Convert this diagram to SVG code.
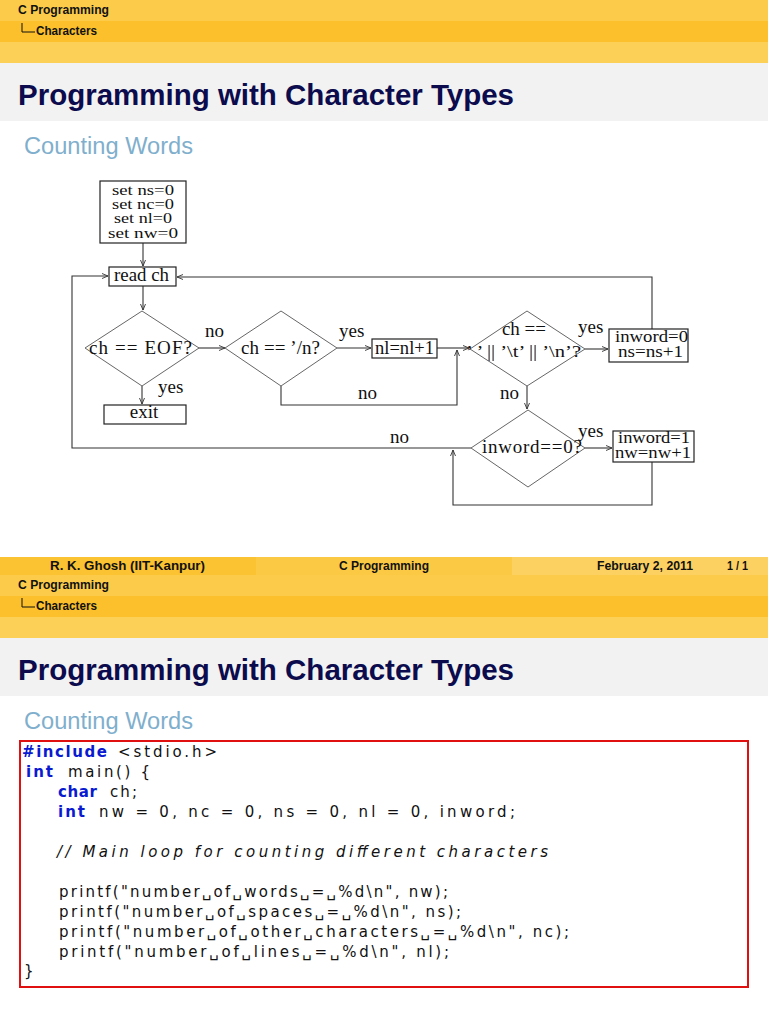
<svg xmlns="http://www.w3.org/2000/svg" width="768" height="1024" viewBox="0 0 768 1024">
<defs>
<style>
.hdr{font-family:"Liberation Sans",Arial,sans-serif;font-size:12px;font-weight:bold;fill:#111}
.title{font-family:"Liberation Sans",Arial,sans-serif;font-size:30px;font-weight:bold;fill:#0b0b4d}
.sub{font-family:"Liberation Sans",Arial,sans-serif;font-size:23px;fill:#7fafcd}
.ft{font-family:"Liberation Sans",Arial,sans-serif;font-size:12px;font-weight:bold;fill:#111}
.fc{font-family:"Liberation Serif","Times New Roman",serif;font-size:19px;fill:#111}
.fs{font-family:"Liberation Serif","Times New Roman",serif;font-size:16px;fill:#111}
.fi{font-family:"Liberation Serif","Times New Roman",serif;font-size:15px;fill:#111}
.box{fill:#fff;stroke:#222;stroke-width:1.2}
.dia{fill:#fff;stroke:#666;stroke-width:1}
.con{fill:none;stroke:#333;stroke-width:1.1}
.code{font-family:"DejaVu Sans","Liberation Sans",sans-serif;font-size:15px;fill:#111}
.kw{font-family:"DejaVu Sans","Liberation Sans",sans-serif;font-size:15px;font-weight:bold;fill:#0a1ad0}
.cm{font-family:"DejaVu Sans","Liberation Sans",sans-serif;font-size:15px;font-style:italic;fill:#111}
</style>
<marker id="ah" markerWidth="8" markerHeight="8" refX="7" refY="4" orient="auto" markerUnits="userSpaceOnUse">
<path d="M1,1.5 L7,4 L1,6.5" fill="none" stroke="#333" stroke-width="0.9"/>
</marker>
</defs>
<rect width="768" height="1024" fill="#fff"/>

<!-- Slide 1 header -->
<g id="slide1-header">
<rect x="0" y="0" width="768" height="21" fill="#fccb4a"/>
<rect x="0" y="21" width="768" height="21" fill="#fbc02b"/>
<rect x="0" y="42" width="768" height="21" fill="#fccf57"/>
<rect x="0" y="63" width="768" height="58" fill="#f2f2f2"/>
<text class="hdr" x="18" y="14" textLength="91" lengthAdjust="spacingAndGlyphs">C Programming</text>
<path d="M22,23 V32 H35" fill="none" stroke="#111" stroke-width="1"/>
<text class="hdr" x="36" y="35" textLength="61" lengthAdjust="spacingAndGlyphs">Characters</text>
<text class="title" x="18" y="105" textLength="496" lengthAdjust="spacingAndGlyphs">Programming with Character Types</text>
<text class="sub" x="24" y="154" textLength="169" lengthAdjust="spacingAndGlyphs">Counting Words</text>
</g>

<!-- Flowchart -->
<g id="connectors">
<path class="con" d="M143,243 V266" marker-end="url(#ah)"/>
<path class="con" d="M143,286 V310" marker-end="url(#ah)"/>
<path class="con" d="M198,348 H225" marker-end="url(#ah)"/>
<path class="con" d="M337,348 H371" marker-end="url(#ah)"/>
<path class="con" d="M281,386 V405 H457 V350" marker-end="url(#ah)"/>
<path class="con" d="M437,348 H469" marker-end="url(#ah)"/>
<path class="con" d="M585,349 H608" marker-end="url(#ah)"/>
<path class="con" d="M652,329 V277 H177" marker-end="url(#ah)"/>
<path class="con" d="M527,386 V409" marker-end="url(#ah)"/>
<path class="con" d="M585,448 H612" marker-end="url(#ah)"/>
<path class="con" d="M652,462 V505 H453 V450" marker-end="url(#ah)"/>
<path class="con" d="M471,448 H72 V276 H108" marker-end="url(#ah)"/>
<path class="con" d="M142,386 V404" marker-end="url(#ah)"/>
<text class="fc" x="205" y="337">no</text>
<text class="fc" x="158" y="393">yes</text>
<text class="fc" x="339" y="337">yes</text>
<text class="fc" x="358" y="399">no</text>
<text class="fc" x="578" y="333">yes</text>
<text class="fc" x="500" y="399">no</text>
<text class="fc" x="578" y="437">yes</text>
<text class="fc" x="390" y="443">no</text>
</g>

<g id="init">
<rect class="box" x="100" y="181" width="86" height="62"/>
<text class="fi" x="112" y="195" textLength="62" lengthAdjust="spacingAndGlyphs">set ns=0</text>
<text class="fi" x="112" y="209" textLength="62" lengthAdjust="spacingAndGlyphs">set nc=0</text>
<text class="fi" x="114" y="223" textLength="58" lengthAdjust="spacingAndGlyphs">set nl=0</text>
<text class="fi" x="108" y="238" textLength="70" lengthAdjust="spacingAndGlyphs">set nw=0</text>
</g>
<g id="read">
<rect class="box" x="109" y="267" width="67" height="19"/>
<text class="fc" x="114" y="281" textLength="55" lengthAdjust="spacingAndGlyphs">read ch</text>
</g>
<g id="eof">
<polygon class="dia" points="142,311 199,348 142,386 85,348"/>
<text class="fc" x="89" y="354" textLength="103">ch == EOF?</text>
</g>
<g id="exit">
<rect class="box" x="104" y="405" width="82" height="19"/>
<text class="fc" text-anchor="middle" x="144" y="418">exit</text>
</g>
<g id="newline">
<polygon class="dia" points="281,311 337,348 281,386 225,348"/>
<text class="fc" x="241" y="354" textLength="79">ch == ’/n?</text>
</g>
<g id="nlinc">
<rect class="box" x="372" y="339" width="65" height="19"/>
<text class="fc" x="375" y="354" textLength="59" lengthAdjust="spacingAndGlyphs">nl=nl+1</text>
</g>
<g id="space">
<polygon class="dia" points="527,311 585,349 527,386 470,349"/>
<text class="fc" text-anchor="middle" x="524" y="335">ch ==</text>
<text class="fs" x="466" y="357" textLength="115" lengthAdjust="spacingAndGlyphs">’ ’ || ’\t’ || ’\n’?</text>
</g>
<g id="inword0">
<rect class="box" x="609" y="329" width="79" height="33"/>
<text class="fs" x="615" y="342" textLength="73" lengthAdjust="spacingAndGlyphs">inword=0</text>
<text class="fs" x="618" y="357" textLength="65" lengthAdjust="spacingAndGlyphs">ns=ns+1</text>
</g>
<g id="inwordtest">
<polygon class="dia" points="528,410 585,448 528,487 471,448"/>
<text class="fc" x="482" y="453" textLength="100">inword==0?</text>
</g>
<g id="inword1">
<rect class="box" x="613" y="431" width="81" height="31"/>
<text class="fs" x="618" y="443" textLength="72" lengthAdjust="spacingAndGlyphs">inword=1</text>
<text class="fs" x="615" y="458" textLength="76" lengthAdjust="spacingAndGlyphs">nw=nw+1</text>
</g>

<!-- Footer -->
<g id="footer">
<rect x="0" y="557" width="256" height="18" fill="#fbc231"/>
<rect x="256" y="557" width="256" height="18" fill="#fcc944"/>
<rect x="512" y="557" width="256" height="18" fill="#fcd162"/>
<text class="ft" x="50" y="570" textLength="155" lengthAdjust="spacingAndGlyphs">R. K. Ghosh  (IIT-Kanpur)</text>
<text class="ft" x="339" y="570" textLength="90" lengthAdjust="spacingAndGlyphs">C Programming</text>
<text class="ft" x="597" y="570" textLength="96" lengthAdjust="spacingAndGlyphs">February 2, 2011</text>
<text class="ft" x="727" y="570" textLength="21" lengthAdjust="spacingAndGlyphs">1 / 1</text>
</g>

<!-- Slide 2 header -->
<g id="slide2-header">
<rect x="0" y="575" width="768" height="21" fill="#fccb4a"/>
<rect x="0" y="596" width="768" height="21" fill="#fbc02b"/>
<rect x="0" y="617" width="768" height="21" fill="#fccf57"/>
<rect x="0" y="638" width="768" height="58" fill="#f2f2f2"/>
<text class="hdr" x="18" y="589" textLength="91" lengthAdjust="spacingAndGlyphs">C Programming</text>
<path d="M22,598 V607 H35" fill="none" stroke="#111" stroke-width="1"/>
<text class="hdr" x="36" y="610" textLength="61" lengthAdjust="spacingAndGlyphs">Characters</text>
<text class="title" x="18" y="680" textLength="496" lengthAdjust="spacingAndGlyphs">Programming with Character Types</text>
<text class="sub" x="24" y="729" textLength="169" lengthAdjust="spacingAndGlyphs">Counting Words</text>
</g>

<!-- Code listing -->
<g id="code">
<rect x="20" y="741" width="728" height="246" fill="#fff" stroke="#e01010" stroke-width="2"/>
<text class="kw" x="22" y="757" textLength="85">#include</text>
<text class="code" x="118" y="757" textLength="99">&lt;stdio.h&gt;</text>
<text class="kw" x="26" y="777" textLength="27">int</text>
<text class="code" x="68" y="777" textLength="82">main() {</text>
<text class="kw" x="58" y="797" textLength="39">char</text>
<text class="code" x="110" y="797" textLength="27">ch;</text>
<text class="kw" x="58" y="817" textLength="27">int</text>
<text class="code" x="99" y="817" textLength="416">nw = 0, nc = 0, ns = 0, nl = 0, inword;</text>
<text class="cm" x="57" y="857" textLength="491">// Main loop for counting different characters</text>
<text class="code" x="59" y="897" textLength="389">printf("number␣of␣words␣=␣%d\n", nw);</text>
<text class="code" x="59" y="917" textLength="402">printf("number␣of␣spaces␣=␣%d\n", ns);</text>
<text class="code" x="59" y="937" textLength="510">printf("number␣of␣other␣characters␣=␣%d\n", nc);</text>
<text class="code" x="59" y="957" textLength="390">printf("number␣of␣lines␣=␣%d\n", nl);</text>
<text class="code" x="24" y="976">}</text>
</g>
</svg>
